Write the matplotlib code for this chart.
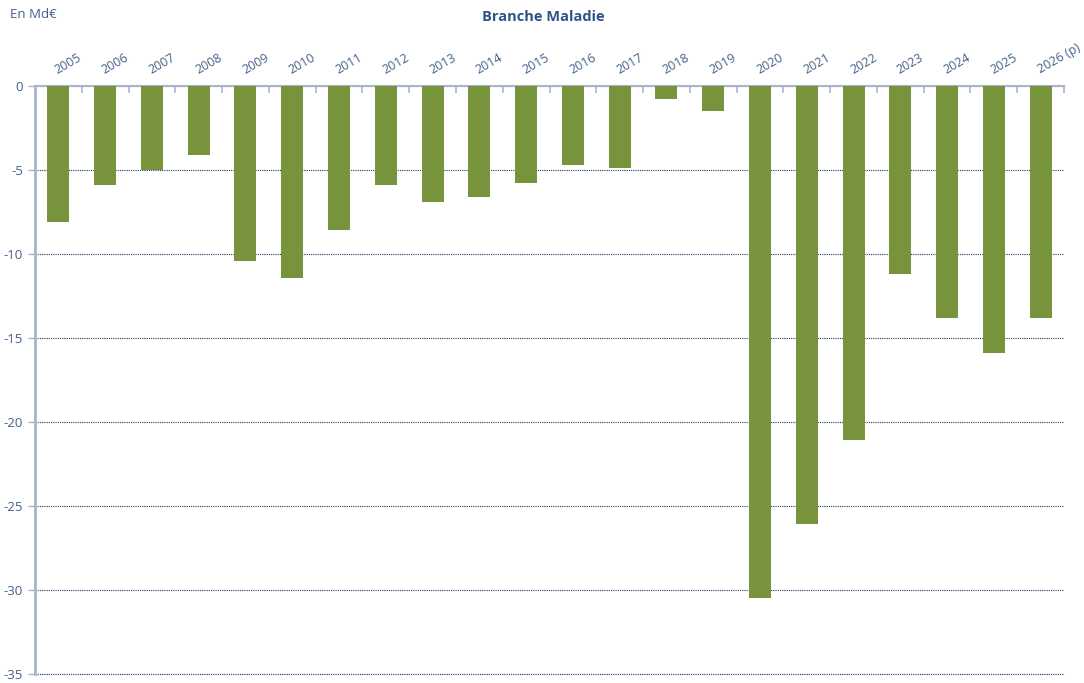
import numpy as np
import matplotlib
matplotlib.use("Agg")
import matplotlib.pyplot as plt
import matplotlib.transforms as mtransforms
from matplotlib.ticker import FixedLocator

plt.rcParams['font.family'] = ['Open Sans', 'DejaVu Sans']
plt.rcParams['axes.unicode_minus'] = False

years = ["2005", "2006", "2007", "2008", "2009", "2010", "2011", "2012", "2013", "2014", "2015",
         "2016", "2017", "2018", "2019", "2020", "2021", "2022", "2023", "2024", "2025", "2026 (p)"]
solde = [-8.1, -5.9, -5.0, -4.1, -10.4, -11.4, -8.6, -5.9, -6.9, -6.6, -5.8,
         -4.7, -4.9, -0.8, -1.5, -30.5, -26.1, -21.1, -11.2, -13.8, -15.9, -13.8]

text_col = "#44608A"
fig = plt.figure(figsize=(10.84, 6.83), dpi=100)
ax = fig.add_axes([35/1084, 1 - 674/683, (1064 - 35)/1084, (674 - 86)/683])

x = np.arange(len(years))
ax.bar(x, solde, width=0.47, color="#77933C", zorder=3)

ax.set_xlim(-0.5, len(years) - 0.5)
ax.set_ylim(-35, 0)
ax.set_yticks(np.arange(-35, 1, 5))
ax.yaxis.grid(True, linestyle=(0, (1, 1)), color="#1F3864", linewidth=0.8)
ax.axhline(-35, linestyle=(0, (1, 1)), color="#1F3864", linewidth=0.8, clip_on=False)
ax.set_axisbelow(True)

ax.xaxis.tick_top()
ax.set_xticks(x)
ax.set_xticklabels(years, rotation=30, ha="left", rotation_mode="anchor", fontsize=9, color=text_col)
ax.xaxis.set_minor_locator(FixedLocator(np.arange(0.5, len(years), 1)))
ax.tick_params(axis="x", which="major", length=0, pad=7)
ax.tick_params(axis="x", which="minor", length=5, direction="in", color="#A6B5CC", width=1.2)
ax.tick_params(axis="y", length=5, color="#A6B5CC", labelcolor=text_col, labelsize=9.5, width=1)
shift = mtransforms.ScaledTranslation(1/100, 0, fig.dpi_scale_trans)
for lab in ax.get_xticklabels():
    lab.set_transform(lab.get_transform() + shift)

for s in ["right", "bottom"]:
    ax.spines[s].set_visible(False)
ax.spines["left"].set_color("#A6B5CC")
ax.spines["left"].set_linewidth(2)
ax.spines["top"].set_color("#A6B5CC")
ax.spines["top"].set_linewidth(1.5)

fig.text(10/1084, 1 - 14/683, "En Md€", fontsize=9.5, color=text_col, va="center", ha="left")
fig.text(543/1084, 1 - 17/683, "Branche Maladie", fontsize=10.5, fontweight="bold",
         color="#2F5288", va="center", ha="center")

fig.savefig("out.png", dpi=100)
